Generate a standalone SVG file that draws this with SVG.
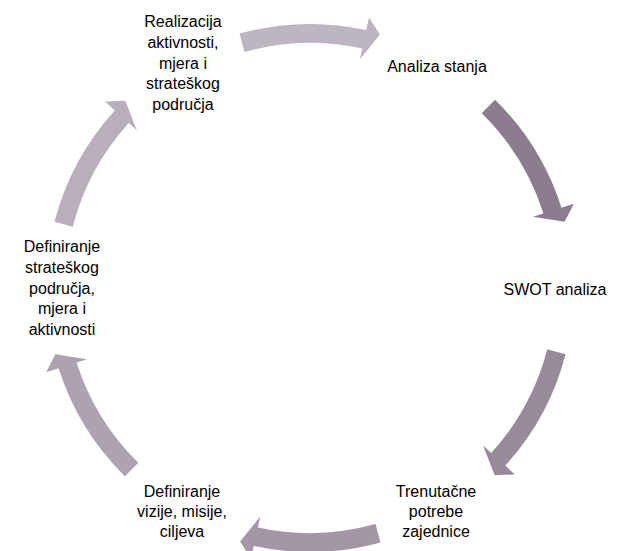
<svg xmlns="http://www.w3.org/2000/svg" width="619" height="551" viewBox="0 0 619 551">
<style>
text{font-family:"Liberation Sans",Arial,sans-serif;font-size:16px;fill:#000;text-anchor:middle}
</style>
<defs>
<path id="arr" d="M239.5,33.6 A264,264 0 0 1 366.2,30.1 L369.0,17.4 L379.9,34.4 L359.8,59.4 L362.2,48.6 A245,245 0 0 0 244.5,51.9 Z"/>
</defs>
<rect width="619" height="551" fill="#fff"/>
<g id="connectors">
<use href="#arr" fill="#bdb5c0"/>
<use href="#arr" fill="#8b7d8d" transform="rotate(60 310 288)"/>
<use href="#arr" fill="#978b99" transform="rotate(120 310 288)"/>
<use href="#arr" fill="#a397a6" transform="rotate(180 310 288)"/>
<use href="#arr" fill="#ada3b0" transform="rotate(240 310 288)"/>
<use href="#arr" fill="#b8afbb" transform="rotate(300 310 288)"/>
</g>
<g id="n1"><text x="183" y="27">Realizacija</text><text x="183" y="48">aktivnosti,</text><text x="183" y="69">mjera i</text><text x="183" y="89">strateškog</text><text x="183" y="110">područja</text></g>
<g id="n2"><text x="437" y="72">Analiza stanja</text></g>
<g id="n3"><text x="555" y="295">SWOT analiza</text></g>
<g id="n4"><text x="436" y="497">Trenutačne</text><text x="436" y="517">potrebe</text><text x="436" y="537">zajednice</text></g>
<g id="n5"><text x="182" y="497">Definiranje</text><text x="182" y="517">vizije, misije,</text><text x="182" y="537">ciljeva</text></g>
<g id="n6"><text x="62" y="252">Definiranje</text><text x="62" y="273">strateškog</text><text x="62" y="294">područja,</text><text x="62" y="314">mjera i</text><text x="62" y="335">aktivnosti</text></g>
</svg>
